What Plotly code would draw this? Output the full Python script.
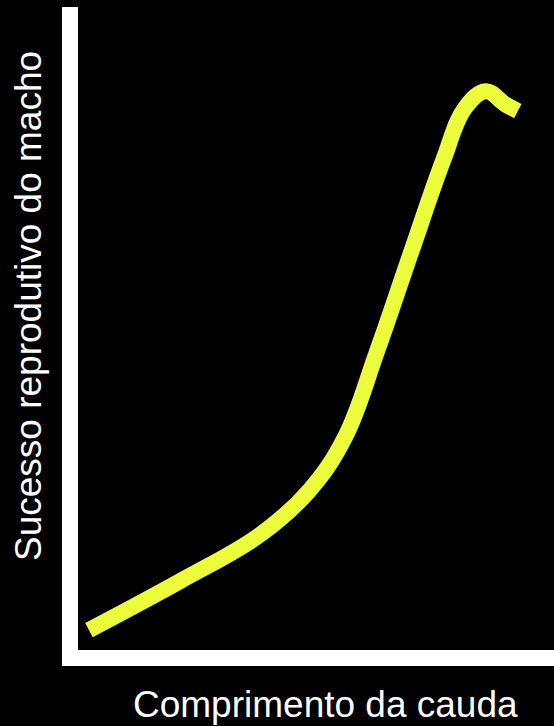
import plotly.graph_objects as go

# Tail length (arbitrary units) vs male reproductive success (arbitrary units)
tail_length = [2.3, 21.4, 38.2, 48.7, 56.1, 62.8, 70.0, 76.7, 81.3, 85.7, 89.7, 92.4]
repro_success = [3.1, 10.7, 17.9, 24.9, 33.1, 46.4, 61.9, 76.1, 84.3, 86.9, 84.9, 83.8]

x_title = "Comprimento da cauda"
y_title = "Sucesso reprodutivo do macho"

W, H = 554, 726
L, R, T, B = 78, 0, 7, 76

fig = go.Figure()
fig.add_trace(go.Scatter(
    x=tail_length, y=repro_success, mode="lines",
    line=dict(color="#ecfd3b", width=16, shape="spline", smoothing=1.1),
    hoverinfo="skip", showlegend=False,
))

axis_common = dict(
    showline=True, linecolor="white", linewidth=16,
    showgrid=False, zeroline=False, showticklabels=False, ticks="",
    range=[0, 100], fixedrange=True,
)
fig.update_xaxes(**axis_common)
fig.update_yaxes(**axis_common)

pw = W - L - R
ph = H - T - B
font = dict(family="Liberation Sans, Arial, sans-serif", size=37, color="white")
fig.add_annotation(text=x_title, xref="paper", yref="paper",
                   x=(325 - L) / pw, y=(H - B - 704) / ph,
                   xanchor="center", yanchor="middle", showarrow=False, font=font)
fig.add_annotation(text=y_title, xref="paper", yref="paper",
                   x=(28 - L) / pw, y=(H - B - 306) / ph, textangle=-90,
                   xanchor="center", yanchor="middle", showarrow=False, font=font)

fig.update_layout(
    width=W, height=H,
    margin=dict(l=L, r=R, t=T, b=B, pad=0),
    paper_bgcolor="black", plot_bgcolor="black",
    showlegend=False,
)

fig.write_html(
    "out.html",
    config={"displayModeBar": False},
    post_script="document.body.style.margin='0';document.body.style.background='black';",
)
